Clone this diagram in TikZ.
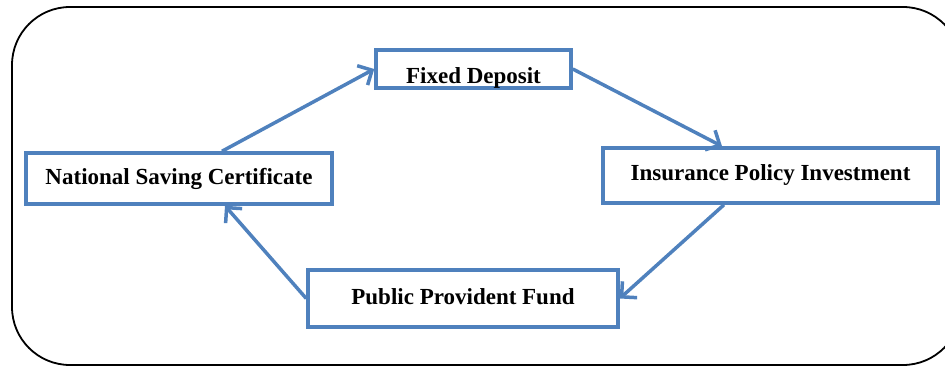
\documentclass[tikz,border=0pt]{standalone}
\usepackage{fontspec}
\setmainfont{Liberation Serif}
\usetikzlibrary{arrows.meta}
\definecolor{boxblue}{HTML}{4F81BD}
\tikzset{
  x=1pt,y=1pt,
  box/.style={draw=boxblue, line width=3.5pt, rectangle, inner sep=0pt, font=\fontsize{23}{27}\selectfont\bfseries},
  conn/.style={draw=boxblue, line width=3.5pt, -{Straight Barb[length=11pt,width=22pt,line width=3.5pt]}}
}
\begin{document}
\begin{tikzpicture}
\useasboundingbox (0,0) rectangle (945,-366);
\clip (0,0) rectangle (945,-366);
\draw[line width=1.8pt, rounded corners=58pt] (12,-7) rectangle (961,-365);
\node[box, minimum width=195pt, minimum height=38pt, text height=30pt, text depth=0pt] (fd) at (473.5,-69) {Fixed Deposit};
\node[box, minimum width=335pt, minimum height=55pt] (ipi) at (770.5,-175.5) {Insurance Policy Investment};
\node[box, minimum width=306pt, minimum height=51pt] (nsc) at (179,-178.5) {National Saving Certificate};
\node[box, minimum width=310pt, minimum height=57pt, text height=12pt, text depth=0pt] (ppf) at (463,-298.5) {Public Provident Fund};
\draw[conn] ([xshift=43pt]nsc.north) -- (fd.west);
\draw[conn] (fd.east) -- ([xshift=-48.5pt]ipi.north);
\draw[conn] ([xshift=-46.5pt]ipi.south) -- (ppf.east);
\draw[conn] (ppf.west) -- ([xshift=46pt]nsc.south);
\end{tikzpicture}
\end{document}
